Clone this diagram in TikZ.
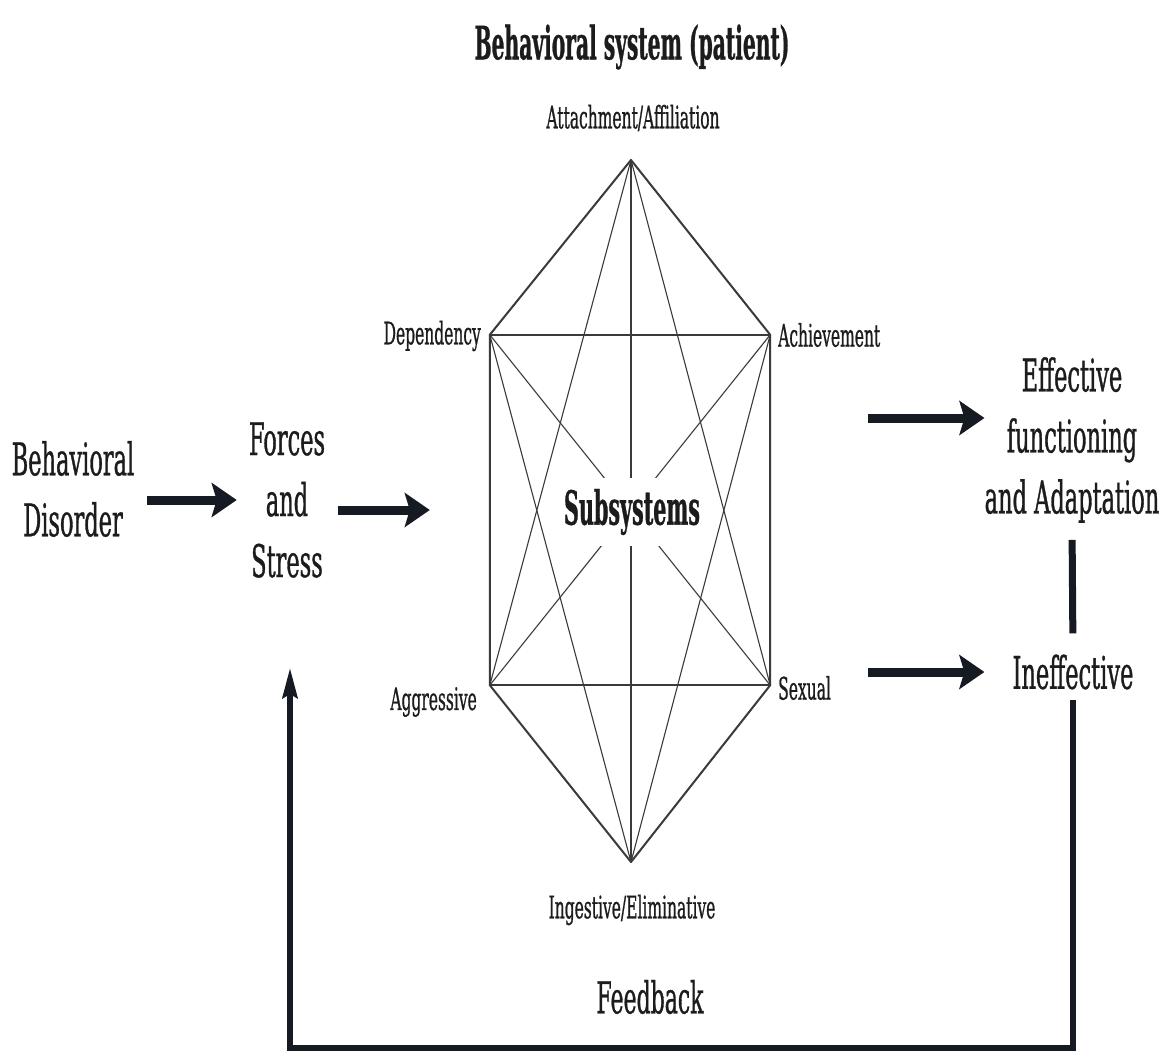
\documentclass[tikz,border=0pt]{standalone}
\usepackage{fontspec}
\setmainfont{DejaVu Serif}[FakeStretch=0.5,FakeBold=0.7]
\newfontfamily\boldslab{DejaVu Serif}[FakeStretch=0.44,FakeBold=0.6]
\usetikzlibrary{arrows.meta}
\definecolor{ink}{HTML}{161A22}
\definecolor{txt}{HTML}{1C1C1C}
\definecolor{hexline}{HTML}{3A3A3A}
\begin{document}
\begin{tikzpicture}[x=1pt,y=-1pt,
  bigtext/.style={font=\fontsize{45}{61}\selectfont, align=center, inner sep=0pt, text=txt},
  smalltext/.style={font=\fontsize{31}{36}\selectfont, inner sep=0pt, text=txt},
  boldtext/.style={font=\boldslab\bfseries\fontsize{46}{50}\selectfont, inner sep=0pt, text=txt},
  bigarrow/.style={draw=ink, line width=9pt, -{Stealth[length=25pt,width=34pt,inset=5pt]}},
  fbline/.style={draw=ink, line width=5.5pt, line join=miter, -{Stealth[length=30pt,width=15pt,inset=4pt]}},
  linkline/.style={draw=ink, line width=7pt},
  outeredge/.style={draw=hexline, line width=2pt, line join=round, line cap=round},
  inneredge/.style={draw=hexline, line width=1.1pt},
]
\useasboundingbox (0,0) rectangle (1165,1055);
\fill[white] (0,0) rectangle (1165,1055);

% hexagon geometry
\node[minimum width=280pt, minimum height=350pt, inner sep=0pt] (rect) at (630,510) {};
\coordinate (T) at (631,160);
\coordinate (B) at (631,862);
\coordinate (D) at (rect.north west);
\coordinate (A) at (rect.north east);
\coordinate (G) at (rect.south west);
\coordinate (S) at (rect.south east);

% inner lines
\draw[inneredge] (T) -- (B);
\draw[inneredge] (T) -- (G);
\draw[inneredge] (T) -- (S);
\draw[inneredge] (B) -- (D);
\draw[inneredge] (B) -- (A);
\draw[inneredge] (D) -- (S);
\draw[inneredge] (A) -- (G);
% outer edges
\draw[outeredge] (T) -- (D) -- (G) -- (B) -- (S) -- (A) -- cycle;
\draw[outeredge] (D) -- (A);
\draw[outeredge] (G) -- (S);

\node[boldtext, font=\boldslab\bfseries\fontsize{47}{50}\selectfont, fill=white, inner xsep=3pt, inner ysep=11pt] (sub) at (632,512) {Subsystems};

% title and vertex labels
\node[boldtext] (title) at (632,47) {Behavioral system (patient)};
\node[smalltext] (att) at (633,118) {Attachment/Affiliation};
\node[smalltext, anchor=east] (dep) at (481,336) {Dependency};
\node[smalltext, anchor=west] (ach) at (778,335) {Achievement};
\node[smalltext, anchor=east] (agg) at (477,702) {Aggressive};
\node[smalltext, anchor=west] (sex) at (778,688) {Sexual};
\node[smalltext] (ing) at (632,910) {Ingestive/Eliminative};

% side labels
\node[bigtext] (dis) at (73,489) {Behavioral\\Disorder};
\node[bigtext] (forces) at (287,500) {Forces\\and\\Stress};
\node[bigtext] (eff) at (1072,440) {Effective\\functioning\\and Adaptation};
\node[bigtext] (ineff) at (1073,672) {Ineffective};
\node[bigtext, font=\fontsize{44}{50}\selectfont] (fb) at (650,997) {Feedback};

% arrows
\draw[bigarrow, shorten <=13pt, shorten >=12pt] (forces.west -| dis.east) -- (forces.west);
\draw[bigarrow, shorten <=13pt, shorten >=60pt] (rect.west -| forces.east) -- (rect.west);
\coordinate (effarrow) at ([yshift=22pt]eff.west);
\draw[bigarrow, shorten <=98pt] (effarrow -| rect.east) -- (effarrow);
\draw[bigarrow, shorten <=98pt, shorten >=28pt] (ineff.west -| rect.east) -- (ineff.west);
\draw[linkline, shorten <=17pt, shorten >=21pt] (eff.south) -- (ineff.north);

% feedback loop
\coordinate (fbtip) at (290,668);
\coordinate (fbcorner) at (290,1048);
\draw[fbline, shorten <=10pt] (ineff.south) |- (fbcorner) -- (fbtip);
\end{tikzpicture}
\end{document}
